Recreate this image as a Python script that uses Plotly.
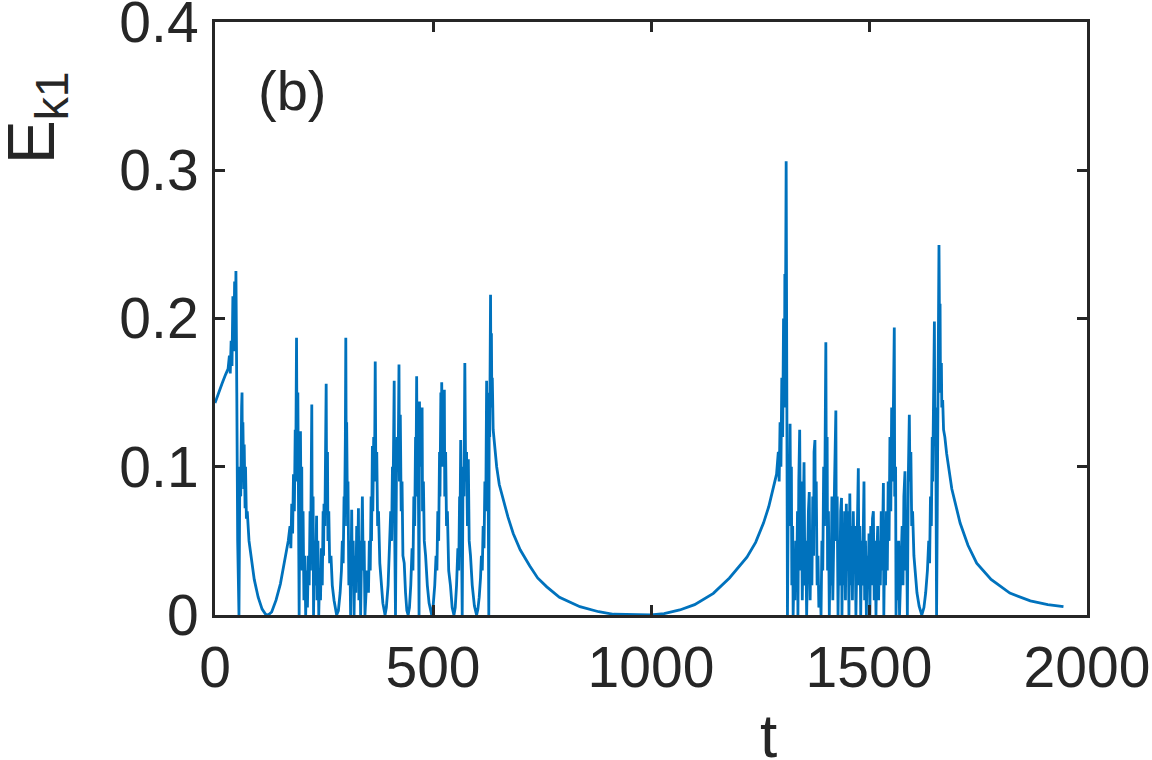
import plotly.graph_objects as go

# time samples and kinetic energy E_k1
t_seg1 = [0, 8, 16, 24, 30, 33, 35, 37, 39, 41,
          43, 45, 47, 48, 49, 50, 52, 54, 55, 57,
          59, 61, 62, 63, 64, 66, 67, 69, 70, 72,
          74, 78, 84, 90, 99, 108, 116, 122]
e_seg1 = [0.143, 0.150, 0.156, 0.162, 0.166, 0.175, 0.163, 0.185, 0.168, 0.215,
          0.178, 0.225, 0.195, 0.232, 0.205, 0.150, 0.050, 0.0, 0.0, 0.100,
          0.080, 0.140, 0.150, 0.090, 0.130, 0.085, 0.115, 0.072, 0.100, 0.065,
          0.070, 0.050, 0.035, 0.024, 0.012, 0.004, 0.0005, 0.0]

t_seg2 = [130, 140, 150, 160, 168, 172, 174, 176, 178, 180,
          182, 184, 185, 187, 188, 190, 191, 193, 194, 196,
          197, 199, 200, 202, 204, 206, 208, 210, 212, 214,
          216, 218, 219, 221, 222, 223, 225, 226, 228, 230,
          232, 233, 234, 236, 238, 240, 242, 244, 246, 248,
          249, 250, 252, 253, 254, 255, 256, 258, 259, 261,
          263, 266, 269, 273, 279, 283, 287, 290, 292, 294,
          296, 297, 299, 300, 301, 302, 304, 305, 307, 309,
          311, 312, 313.5, 315, 317, 319, 321, 323, 325, 327,
          329, 330, 332, 334, 336, 338, 340, 342, 344]
e_seg2 = [0.002, 0.010, 0.021, 0.036, 0.050, 0.060, 0.045, 0.075, 0.055, 0.095,
          0.070, 0.125, 0.090, 0.187, 0.120, 0.150, 0.060, 0.0, 0.060, 0.124,
          0.080, 0.100, 0.030, 0.070, 0.010, 0.040, 0.0, 0.030, 0.005, 0.040,
          0.020, 0.070, 0.030, 0.100, 0.142, 0.050, 0.080, 0.0, 0.050, 0.020,
          0.060, 0.067, 0.010, 0.050, 0.0, 0.030, 0.010, 0.045, 0.020, 0.070,
          0.040, 0.075, 0.060, 0.120, 0.100, 0.156, 0.080, 0.110, 0.050, 0.070,
          0.035, 0.040, 0.020, 0.010, 0.0, 0.003, 0.015, 0.030, 0.050, 0.035,
          0.080, 0.060, 0.120, 0.187, 0.100, 0.130, 0.060, 0.090, 0.020, 0.050,
          0.0, 0.040, 0.071, 0.020, 0.050, 0.0, 0.040, 0.015, 0.060, 0.030,
          0.072, 0.010, 0.050, 0.0, 0.060, 0.080, 0.030, 0.050, 0.0]

t_seg3 = [346, 349, 352, 354, 356, 358, 359, 361, 362, 364,
          366, 367.5, 369, 371, 373, 375, 378, 381, 385, 390,
          393, 397, 400, 403, 405, 407, 408, 410, 411, 412,
          414, 416, 418, 420, 422, 423, 425, 427, 429, 431,
          434, 437, 440, 443, 446, 449, 452, 454, 456, 458,
          460, 461, 462.5, 464, 466, 468, 469, 471, 473, 475,
          476, 478, 480, 483, 487, 491, 497, 500, 504, 507,
          509, 511, 513, 515, 516, 518, 519, 520, 522, 524,
          526, 527, 529, 531, 533, 536, 540, 544, 548, 551,
          554, 557, 559, 561, 562, 563.5, 565, 567, 569, 571,
          573, 575, 577, 579, 581, 583, 586, 590, 595, 600]
e_seg3 = [0.010, 0.030, 0.015, 0.050, 0.030, 0.080, 0.050, 0.114, 0.070, 0.120,
          0.100, 0.171, 0.090, 0.110, 0.060, 0.070, 0.035, 0.025, 0.008, 0.0,
          0.005, 0.020, 0.040, 0.070, 0.050, 0.100, 0.070, 0.130, 0.158, 0.060,
          0.0, 0.090, 0.120, 0.100, 0.169, 0.090, 0.135, 0.070, 0.090, 0.040,
          0.035, 0.015, 0.003, 0.0, 0.005, 0.020, 0.045, 0.030, 0.080, 0.060,
          0.120, 0.090, 0.161, 0.080, 0.120, 0.0, 0.144, 0.100, 0.120, 0.140,
          0.070, 0.090, 0.050, 0.040, 0.020, 0.008, 0.0, 0.005, 0.020, 0.040,
          0.030, 0.070, 0.050, 0.110, 0.080, 0.150, 0.100, 0.157, 0.100, 0.130,
          0.152, 0.080, 0.110, 0.060, 0.070, 0.030, 0.020, 0.005, 0.0, 0.005,
          0.020, 0.045, 0.030, 0.080, 0.060, 0.118, 0.060, 0.0, 0.100, 0.080,
          0.170, 0.090, 0.110, 0.060, 0.105, 0.050, 0.040, 0.020, 0.006, 0.0]

t_seg4 = [603, 606, 609, 611, 613, 615, 617, 619, 621, 623,
          624, 626, 628, 629, 630, 632, 633, 634, 635, 636,
          638, 640, 643, 646, 652, 661, 672, 684, 700, 722,
          740, 761, 790, 837, 880, 914, 952, 1000]
e_seg4 = [0.004, 0.012, 0.025, 0.040, 0.030, 0.060, 0.045, 0.090, 0.070, 0.158,
          0.100, 0.120, 0.0, 0.150, 0.120, 0.216, 0.140, 0.190, 0.140, 0.160,
          0.125, 0.118, 0.108, 0.100, 0.088, 0.078, 0.066, 0.055, 0.044, 0.033,
          0.025, 0.019, 0.012, 0.0056, 0.0022, 0.0005, 0.0001, 0.0]

t_seg5 = [1030, 1066, 1100, 1143, 1180, 1220, 1240, 1258, 1270, 1281,
          1288, 1292, 1294, 1296, 1298, 1300, 1302, 1304, 1306, 1307,
          1308, 1310, 1311, 1312, 1313]
e_seg5 = [0.001, 0.0034, 0.007, 0.0146, 0.025, 0.039, 0.049, 0.062, 0.073, 0.087,
          0.095, 0.110, 0.090, 0.130, 0.100, 0.160, 0.120, 0.200, 0.140, 0.230,
          0.170, 0.306, 0.200, 0.100, 0.0]

t_seg6 = [1315, 1317, 1319, 1320, 1322, 1323, 1325, 1326, 1328, 1330,
          1332, 1334, 1336, 1337, 1339, 1341, 1343, 1345, 1347, 1349,
          1351, 1353, 1355, 1357, 1359, 1361, 1363, 1365, 1367, 1369,
          1371, 1373, 1374, 1376, 1377, 1379, 1381, 1383, 1385, 1388,
          1390, 1392, 1394, 1396, 1398, 1400, 1401, 1402, 1404, 1405,
          1407, 1409, 1411, 1413, 1415, 1417, 1419, 1421, 1424, 1425,
          1427, 1429, 1431, 1433, 1435, 1437, 1438, 1440, 1442, 1444,
          1446, 1448, 1450, 1452, 1454, 1456, 1458, 1460, 1462, 1464,
          1466, 1468, 1470, 1473, 1475.5, 1477, 1479, 1481, 1483, 1485,
          1488.5, 1490, 1492, 1494, 1496, 1498, 1500, 1502, 1504, 1506,
          1508, 1510, 1512, 1514, 1516, 1518, 1520, 1522, 1524, 1526,
          1528, 1530, 1533, 1534, 1536, 1538, 1540, 1542, 1544, 1546,
          1548, 1550, 1552, 1554, 1556, 1558, 1559, 1561, 1562, 1564,
          1566, 1568, 1570, 1573, 1576, 1578, 1580, 1582.5, 1584, 1586,
          1588, 1590, 1592.5, 1594, 1596, 1598, 1600, 1603, 1606, 1610]
e_seg6 = [0.090, 0.060, 0.129, 0.080, 0.100, 0.020, 0.060, 0.0, 0.030, 0.010,
          0.050, 0.020, 0.070, 0.0, 0.090, 0.125, 0.030, 0.090, 0.010, 0.060,
          0.103, 0.020, 0.050, 0.0, 0.040, 0.070, 0.083, 0.010, 0.050, 0.020,
          0.080, 0.040, 0.110, 0.118, 0.060, 0.090, 0.020, 0.040, 0.005, 0.020,
          0.0, 0.050, 0.030, 0.100, 0.060, 0.150, 0.184, 0.100, 0.120, 0.030,
          0.070, 0.0, 0.050, 0.020, 0.080, 0.010, 0.060, 0.090, 0.138, 0.050,
          0.080, 0.0, 0.050, 0.020, 0.070, 0.079, 0.0, 0.060, 0.020, 0.070,
          0.010, 0.075, 0.030, 0.070, 0.0, 0.082, 0.020, 0.060, 0.010, 0.070,
          0.030, 0.060, 0.0, 0.050, 0.099, 0.020, 0.060, 0.0, 0.050, 0.020,
          0.090, 0.010, 0.050, 0.0, 0.040, 0.020, 0.055, 0.0, 0.060, 0.020,
          0.065, 0.070, 0.010, 0.050, 0.0, 0.040, 0.060, 0.010, 0.050, 0.020,
          0.070, 0.030, 0.089, 0.0, 0.050, 0.020, 0.070, 0.030, 0.090, 0.050,
          0.120, 0.070, 0.140, 0.090, 0.160, 0.194, 0.080, 0.100, 0.0, 0.040,
          0.010, 0.050, 0.0, 0.030, 0.060, 0.020, 0.080, 0.097, 0.030, 0.060,
          0.0, 0.090, 0.135, 0.090, 0.110, 0.060, 0.070, 0.040, 0.030, 0.015]

t_seg7 = [1615, 1621, 1626, 1630, 1634, 1637, 1639, 1641, 1643, 1645,
          1646, 1648, 1650, 1651, 1653, 1655, 1657, 1659, 1660.5, 1662,
          1663, 1664, 1666, 1667, 1669, 1671, 1674, 1678, 1690, 1709,
          1727, 1747, 1780, 1823, 1870, 1910, 1946]
e_seg7 = [0.006, 0.0, 0.005, 0.015, 0.030, 0.050, 0.035, 0.080, 0.060, 0.120,
          0.090, 0.150, 0.198, 0.120, 0.140, 0.0, 0.120, 0.200, 0.2496, 0.180,
          0.210, 0.150, 0.170, 0.140, 0.145, 0.125, 0.120, 0.109, 0.085, 0.062,
          0.047, 0.035, 0.024, 0.0148, 0.0095, 0.007, 0.0056]

x_ticks = [0, 500, 1000, 1500, 2000]
y_ticks = [0, 0.1, 0.2, 0.3, 0.4]
y_tick_text = ["0", "0.1", "0.2", "0.3", "0.4"]

t_all = t_seg1 + t_seg2 + t_seg3 + t_seg4 + t_seg5 + t_seg6 + t_seg7
e_all = e_seg1 + e_seg2 + e_seg3 + e_seg4 + e_seg5 + e_seg6 + e_seg7
assert len(t_all) == len(e_all)

ink = "#262626"
font = "Liberation Sans, Arial, Helvetica, sans-serif"

fig = go.Figure()
fig.add_trace(go.Scatter(x=t_all, y=e_all, mode="lines",
                         line=dict(color="#0072BD", width=2.8), showlegend=False))

axis_style = dict(showline=True, linewidth=3, linecolor=ink, mirror="allticks",
                  ticks="inside", ticklen=10, tickwidth=2.5, tickcolor=ink,
                  showgrid=False, zeroline=False, automargin=False,
                  ticklabeloverflow="allow",
                  tickfont=dict(family=font, size=57, color=ink))

fig.update_xaxes(range=[0, 2000], tickvals=x_ticks, ticklabelstandoff=1, **axis_style)
# tiny padding so the 0.4 tick is not dropped at the range edge
fig.update_yaxes(range=[0, 0.40001], tickvals=y_ticks, ticktext=y_tick_text,
                 ticklabelstandoff=2, **axis_style)

fig.add_annotation(text="(b)", xref="paper", yref="paper", x=0.0883, y=0.885,
                   showarrow=False, xanchor="center", yanchor="middle",
                   font=dict(family=font, size=56, color=ink))
fig.add_annotation(text="E<sub>k1</sub>", xref="paper", yref="paper", x=-0.205, y=0.838,
                   textangle=-90, showarrow=False, xanchor="center", yanchor="middle",
                   font=dict(family=font, size=66, color=ink))
fig.add_annotation(text="t", xref="paper", yref="paper", x=0.635, y=-0.203,
                   showarrow=False, xanchor="center", yanchor="middle",
                   font=dict(family=font, size=62, color=ink))

fig.update_layout(width=1152, height=760, autosize=False,
                  margin=dict(l=215, r=65, t=22, b=145, autoexpand=False),
                  paper_bgcolor="white", plot_bgcolor="white")

# drop the browser's default body margin so the figure sits at the page corner
fig.write_html("out.html", config={"displayModeBar": False},
               post_script="document.body.style.margin = '0';")
